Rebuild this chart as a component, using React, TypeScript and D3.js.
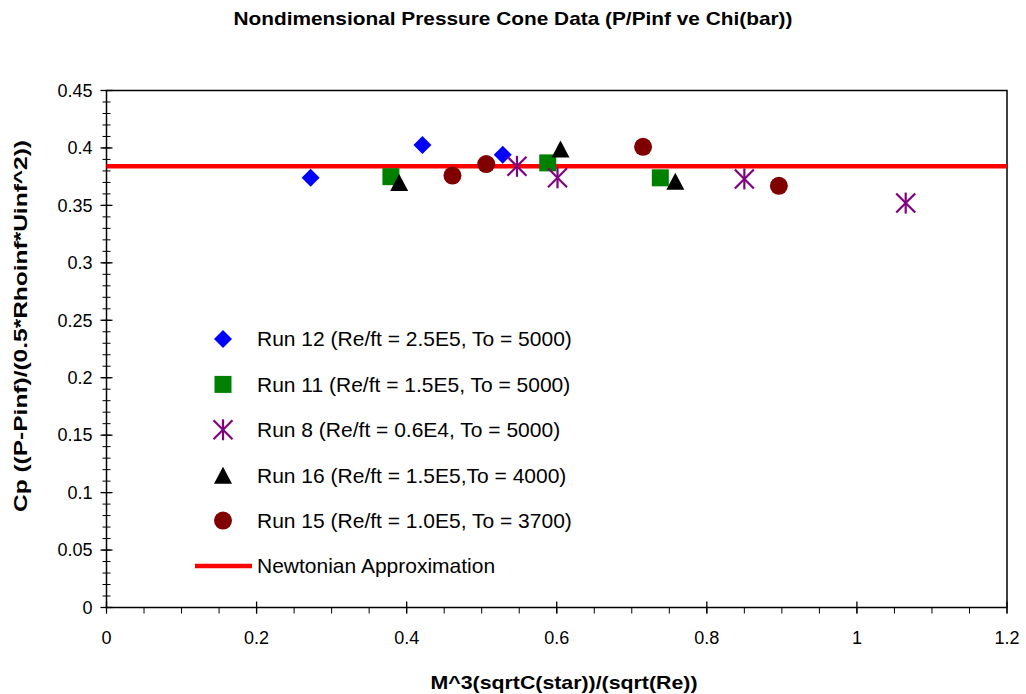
import React from "react";
import * as d3 from "d3";

const W = 1026;
const H = 694;
const M = { left: 106.5, right: 1007, top: 90.5, bottom: 607.5 };

const titleText = "Nondimensional Pressure Cone Data (P/Pinf ve Chi(bar))";
const xTitle = "M^3(sqrtC(star))/(sqrt(Re))";
const yTitle = "Cp ((P-Pinf)/(0.5*Rhoinf*Uinf^2))";

const xTicks = [0, 0.2, 0.4, 0.6, 0.8, 1, 1.2];
const yTicks = [0, 0.05, 0.1, 0.15, 0.2, 0.25, 0.3, 0.35, 0.4, 0.45];

const run12X = [0.272, 0.421, 0.528];
const run12Y = [0.374, 0.4026, 0.394];
const run11X = [0.379, 0.588, 0.738];
const run11Y = [0.375, 0.387, 0.374];
const run8X = [0.547, 0.601, 0.85, 1.065];
const run8Y = [0.384, 0.374, 0.373, 0.352];
const run16X = [0.39, 0.605, 0.758];
const run16Y = [0.37, 0.399, 0.371];
const run15X = [0.461, 0.506, 0.715, 0.896];
const run15Y = [0.376, 0.386, 0.401, 0.367];
const newtonianY = 0.384;
const newtonianX = [0, 1.2];

const seriesNames = [
  "Run 12 (Re/ft = 2.5E5, To = 5000)",
  "Run 11 (Re/ft = 1.5E5, To = 5000)",
  "Run 8 (Re/ft = 0.6E4, To = 5000)",
  "Run 16 (Re/ft = 1.5E5,To = 4000)",
  "Run 15 (Re/ft = 1.0E5, To = 3700)",
  "Newtonian Approximation",
];
const seriesColors = ["#0000FF", "#008000", "#800080", "#000000", "#800000", "#FF0000"];
const seriesShapes = ["diamond", "square", "asterisk", "triangle", "circle", "line"];

const FONT = "'Liberation Sans', Arial, sans-serif";

function Marker({ shape, color, x, y }: { shape: string; color: string; x: number; y: number }) {
  if (shape === "diamond") {
    const r = 9;
    return <path d={`M${x},${y - r}L${x + r},${y}L${x},${y + r}L${x - r},${y}Z`} fill={color} />;
  }
  if (shape === "square") {
    const s = 17;
    return <rect x={x - s / 2} y={y - s / 2} width={s} height={s} fill={color} />;
  }
  if (shape === "triangle") {
    const w = 18, h = 17;
    return <path d={`M${x},${y - h / 2}L${x + w / 2},${y + h / 2}L${x - w / 2},${y + h / 2}Z`} fill={color} />;
  }
  if (shape === "circle") {
    return <circle cx={x} cy={y} r={9} fill={color} />;
  }
  if (shape === "asterisk") {
    const r = 10.5, dx = 9.5, dy = 9.5;
    return (
      <g stroke={color} strokeWidth={2.2}>
        <line x1={x} y1={y - r} x2={x} y2={y + r} />
        <line x1={x - dx} y1={y - dy} x2={x + dx} y2={y + dy} />
        <line x1={x - dx} y1={y + dy} x2={x + dx} y2={y - dy} />
      </g>
    );
  }
  return null;
}

export default function App() {
  const x = d3.scaleLinear().domain([0, 1.2]).range([M.left, M.right]);
  const y = d3.scaleLinear().domain([0, 0.45]).range([M.bottom, M.top]);

  const series = [
    { xs: run12X, ys: run12Y },
    { xs: run11X, ys: run11Y },
    { xs: run8X, ys: run8Y },
    { xs: run16X, ys: run16Y },
    { xs: run15X, ys: run15Y },
  ];

  const yMinor = d3.range(0, 46).map((i) => i * 0.01);
  const xMinor = d3.range(0, 25).map((i) => i * 0.05);

  const line = d3.line<number>().x((d) => x(d)).y(() => y(newtonianY));

  const legendX = 223;
  const legendTextX = 257;
  const legendY0 = 339;
  const legendStep = 45.4;

  return (
    <svg
      width={W}
      height={H}
      style={{ position: "absolute", left: 0, top: 0, background: "#fff" }}
      fontFamily={FONT}
    >
      <rect x={0} y={0} width={W} height={H} fill="#fff" />
      <text x={513} y={25} textAnchor="middle" fontWeight="bold" fontSize={19} textLength={559} lengthAdjust="spacingAndGlyphs">
        {titleText}
      </text>

      {/* plot frame */}
      <rect x={M.left} y={M.top} width={M.right - M.left} height={M.bottom - M.top} fill="none" stroke="#000" strokeWidth={1.5} />

      {/* y minor ticks */}
      {yMinor.map((v, i) => (
        <line key={"ym" + i} x1={M.left - 4} x2={M.left + 4} y1={y(v)} y2={y(v)} stroke="#000" strokeWidth={1} />
      ))}
      {yTicks.map((v, i) => (
        <g key={"yt" + i}>
          <line x1={M.left - 6} x2={M.left + 6} y1={y(v)} y2={y(v)} stroke="#000" strokeWidth={1.3} />
          <text x={M.left - 14} y={y(v)} dy="0.35em" textAnchor="end" fontSize={18}>
            {d3.format("")(+v.toFixed(2))}
          </text>
        </g>
      ))}

      {/* x minor ticks */}
      {xMinor.map((v, i) => (
        <line key={"xm" + i} x1={x(v)} x2={x(v)} y1={M.bottom} y2={M.bottom + 6} stroke="#000" strokeWidth={1} />
      ))}
      {xTicks.map((v, i) => (
        <g key={"xt" + i}>
          <line x1={x(v)} x2={x(v)} y1={M.bottom - 6} y2={M.bottom + 6} stroke="#000" strokeWidth={1.3} />
          <text x={x(v)} y={M.bottom + 36} textAnchor="middle" fontSize={18}>
            {String(v)}
          </text>
        </g>
      ))}

      {/* Newtonian line */}
      <path d={line(newtonianX) || ""} stroke="#FF0000" strokeWidth={4.5} fill="none" />

      {/* data */}
      {series.map((s, si) =>
        s.xs.map((xv, i) => (
          <Marker key={si + "-" + i} shape={seriesShapes[si]} color={seriesColors[si]} x={x(xv)} y={y(s.ys[i])} />
        ))
      )}

      {/* legend */}
      {seriesNames.map((name, i) => {
        const ly = legendY0 + i * legendStep;
        return (
          <g key={"lg" + i}>
            {seriesShapes[i] === "line" ? (
              <line x1={195} x2={252} y1={ly} y2={ly} stroke={seriesColors[i]} strokeWidth={4.5} />
            ) : (
              <Marker shape={seriesShapes[i]} color={seriesColors[i]} x={legendX} y={ly} />
            )}
            <text x={legendTextX} y={ly} dy="0.35em" fontSize={21}>
              {name}
            </text>
          </g>
        );
      })}

      <text x={564} y={689} textAnchor="middle" fontWeight="bold" fontSize={19} textLength={267} lengthAdjust="spacingAndGlyphs">
        {xTitle}
      </text>
      <text
        transform={`translate(27, 326) rotate(-90)`}
        textAnchor="middle"
        fontWeight="bold"
        fontSize={19}
        textLength={372}
        lengthAdjust="spacingAndGlyphs"
      >
        {yTitle}
      </text>
    </svg>
  );
}
